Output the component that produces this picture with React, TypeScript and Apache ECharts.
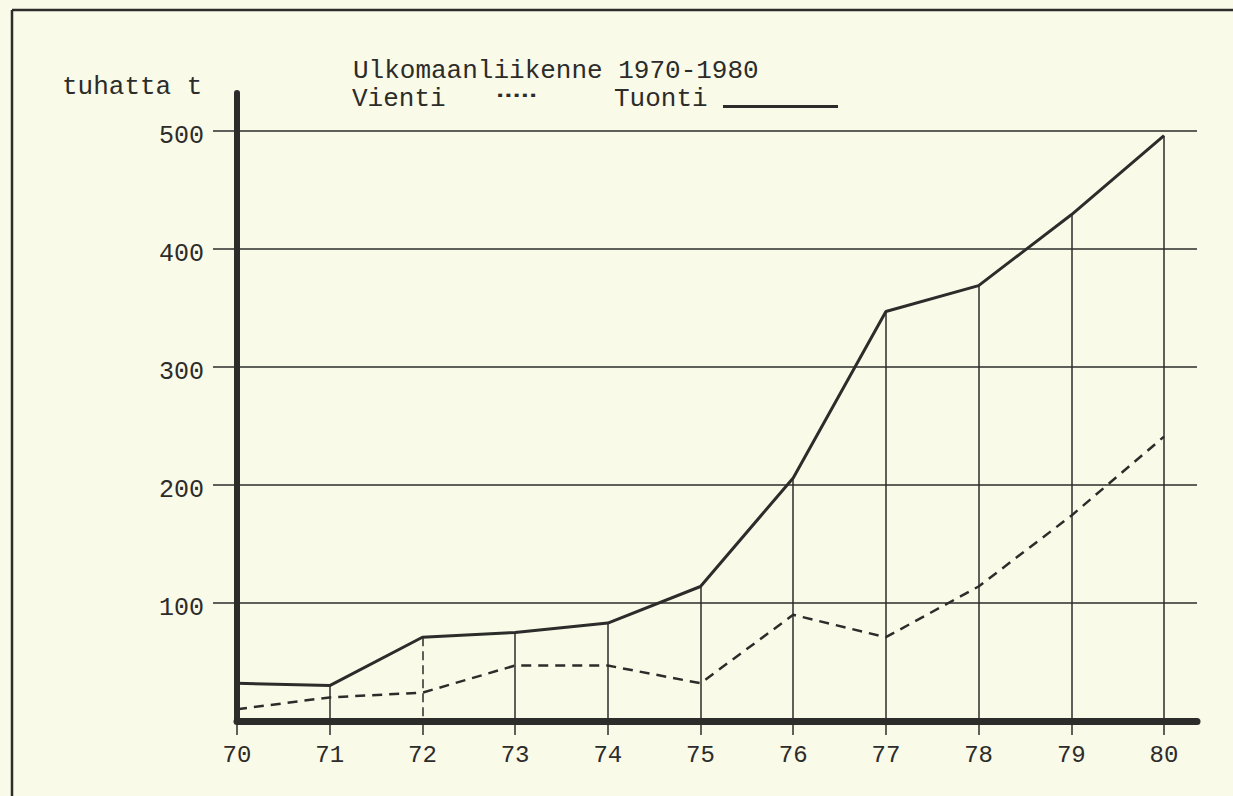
import React, { useEffect, useRef } from "react";
import * as echarts from "echarts";

const years = [70, 71, 72, 73, 74, 75, 76, 77, 78, 79, 80];
const tuonti = [32, 30, 71, 75, 83, 114, 206, 347, 369, 429, 496];
const vienti = [10, 20, 24, 47, 47, 32, 90, 71, 114, 174, 241];
const yTicks = [100, 200, 300, 400, 500];
const titleText = "Ulkomaanliikenne 1970-1980";
const unitText = "tuhatta t";
const viennitLabel = "Vienti";
const tuontiLabel = "Tuonti";

const FONT = "'Liberation Mono', 'DejaVu Sans Mono', monospace";
const INK = "#2c2c2a";
const BG = "#fafae9";

export default function App() {
  const ref = useRef<HTMLDivElement>(null);
  useEffect(() => {
    if (!ref.current) return;
    const chart = echarts.init(ref.current, null, { renderer: "svg" });
    const dropLines = years.slice(1).map((yr, i) => [
      {
        coord: [yr, tuonti[i + 1]],
        lineStyle: { type: yr === 72 ? [9, 5] : "solid" },
      },
      { coord: [yr, 0] },
    ]);
    chart.setOption({
      animation: false,
      backgroundColor: BG,
      title: {
        text: titleText,
        left: 348,
        top: 53,
        textStyle: { fontFamily: FONT, fontSize: 26, fontWeight: "normal", color: INK, lineHeight: 26 },
      },
      grid: { left: 237, top: 131, right: 36, bottom: 75 },
      xAxis: {
        type: "value",
        min: 70,
        max: 80.356,
        interval: 1,
        axisLine: { show: true, lineStyle: { color: INK, width: 7, cap: "round" } },
        axisTick: {
          show: true,
          length: 14,
          customValues: years,
          lineStyle: { color: INK, width: 1.5 },
        },
        axisLabel: {
          customValues: years,
          formatter: (v: number) => (Number.isInteger(v) ? String(v) : ""),
          fontFamily: FONT,
          fontSize: 24,
          color: INK,
          margin: 22,
        },
        splitLine: { show: false },
      },
      yAxis: {
        type: "value",
        min: 0,
        max: 500,
        interval: 100,
        axisLine: { show: true, lineStyle: { color: INK, width: 6, cap: "round" } },
        axisTick: {
          show: true,
          length: 24,
          customValues: yTicks,
          lineStyle: { color: INK, width: 1.5 },
        },
        axisLabel: {
          customValues: yTicks,
          formatter: (v: number) => (v === 0 ? "" : `{v|${v}}`),
          color: INK,
          margin: 33,
          rich: {
            v: {
              fontFamily: FONT,
              fontSize: 25,
              color: INK,
              lineHeight: 25,
              padding: [10, 0, 0, 0],
            },
          },
        },
        splitLine: { show: true, lineStyle: { color: INK, width: 1.5 } },
      },
      series: [
        {
          name: tuontiLabel,
          type: "line",
          data: years.map((y, i) => [y, tuonti[i]]),
          symbol: "none",
          lineStyle: { color: INK, width: 3 },
          z: 5,
          markLine: {
            silent: true,
            symbol: "none",
            label: { show: false },
            lineStyle: { color: INK, width: 1.5 },
            data: dropLines,
            z: 2,
          },
        },
        {
          name: viennitLabel,
          type: "line",
          data: years.map((y, i) => [y, vienti[i]]),
          symbol: "none",
          lineStyle: { color: INK, width: 2.5, type: [10, 7] },
          z: 4,
        },
      ],
      graphic: [
        { type: "line", shape: { x1: 12, y1: 10, x2: 1233, y2: 10 }, style: { stroke: INK, lineWidth: 2.5 } },
        { type: "line", shape: { x1: 12, y1: 10, x2: 12, y2: 796 }, style: { stroke: INK, lineWidth: 2.5 } },
        { type: "line", shape: { x1: 237, y1: 93, x2: 237, y2: 132 }, style: { stroke: INK, lineWidth: 6, lineCap: "round" } },
        {
          type: "text", x: 62, y: 87,
          style: { text: unitText, font: `26px ${FONT}`, fill: INK, textVerticalAlign: "middle", lineHeight: 24 },
        },
        {
          type: "text", x: 352, y: 99,
          style: { text: viennitLabel, font: `26px ${FONT}`, fill: INK, textVerticalAlign: "middle", lineHeight: 22 },
        },
        {
          type: "text", x: 496, y: 96, scaleX: 0.49,
          style: { text: "-----", font: `bold 28px ${FONT}`, fill: INK, textVerticalAlign: "middle", lineHeight: 20 },
        },
        {
          type: "text", x: 614, y: 99,
          style: { text: tuontiLabel, font: `26px ${FONT}`, fill: INK, textVerticalAlign: "middle", lineHeight: 22 },
        },
        { type: "rect", shape: { x: 723, y: 105, width: 115, height: 3 }, style: { fill: INK } },
      ],
    });
    return () => chart.dispose();
  }, []);
  return (
    <div
      ref={ref}
      style={{ position: "fixed", left: 0, top: 0, width: 1233, height: 796 }}
    />
  );
}
